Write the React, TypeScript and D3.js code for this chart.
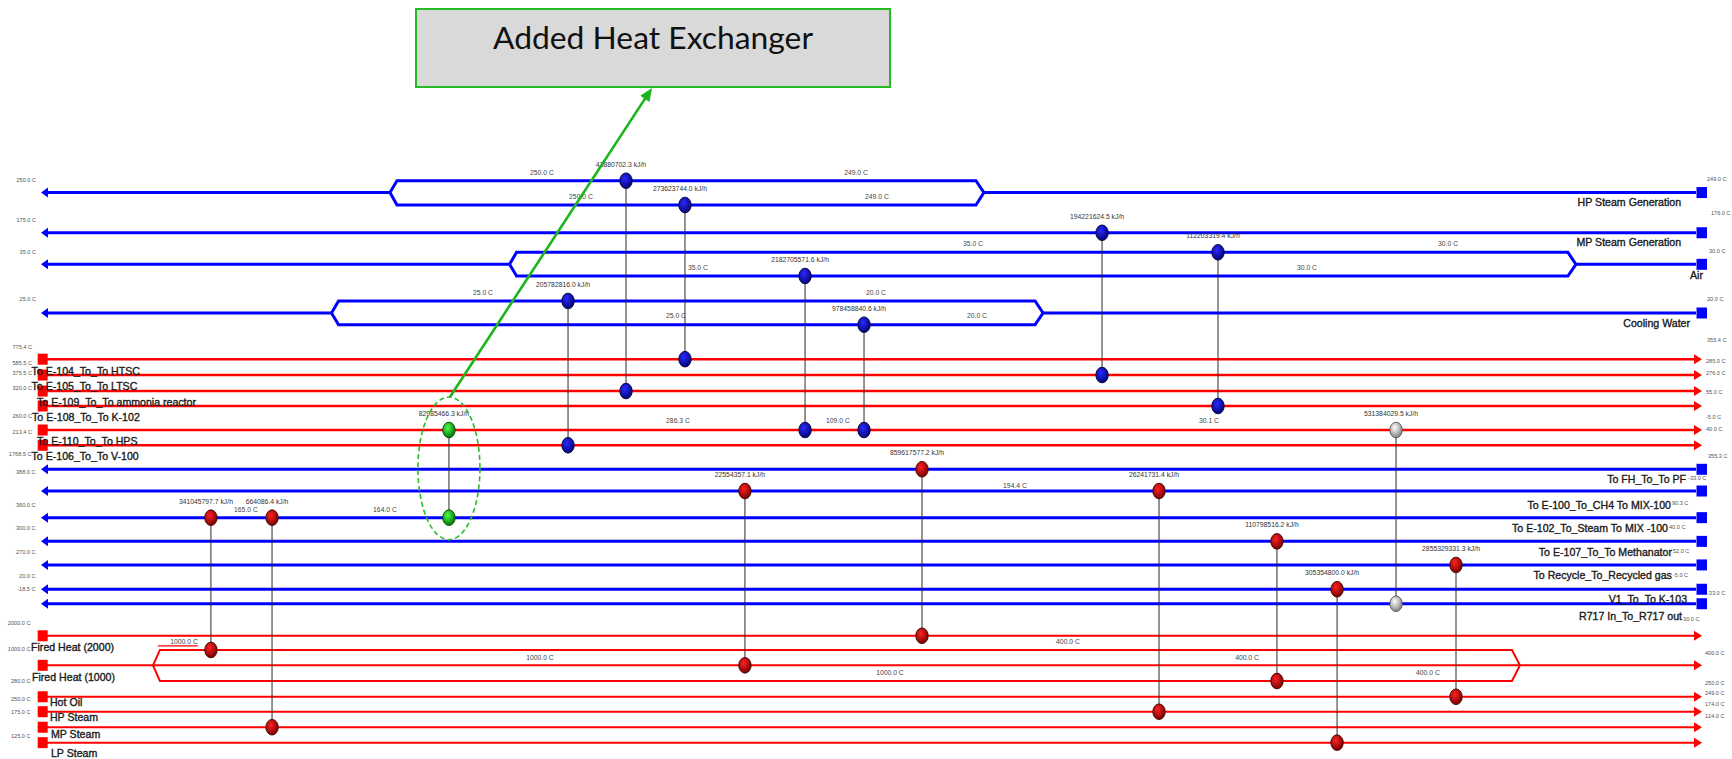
import React from "react";
import * as d3 from "d3";

// streams, top to bottom
const streamNames = [
  "HP Steam Generation", "MP Steam Generation", "Air", "Cooling Water",
  "To E-104_To_To HTSC", "To E-105_To_To LTSC", "To E-109_To_To ammonia reactor",
  "To E-108_To_To K-102", "To E-110_To_To HPS", "To E-106_To_To V-100",
  "To FH_To_To PF", "To E-100_To_CH4 To MIX-100", "To E-102_To_Steam To MIX -100",
  "To E-107_To_To Methanator", "To Recycle_To_Recycled gas", "V1_To_To K-103", "R717 In_To_R717 out",
  "Fired Heat (2000)", "Fired Heat (1000)", "Hot Oil", "HP Steam", "MP Steam", "LP Steam",
];
const streamIsHot = [
  false, false, false, false,
  true, true, true, true, true, true,
  false, false, false, false, false, false, false,
  true, true, true, true, true, true,
];
const streamIsUtility = [
  true, true, true, true,
  false, false, false, false, false, false,
  false, false, false, false, false, false, false,
  true, true, true, true, true, true,
];
// grid row of each stream
const streamLane = [
  0.77, 3.38, 5.43, 8.59,
  11.59, 12.62, 13.66, 14.63, 16.19, 17.18,
  18.74, 20.15, 21.88, 23.42, 24.95, 26.53, 27.47,
  29.55, 31.47, 33.51, 34.48, 35.49, 36.49,
];
const leftTemps = [
  "250.0 C", "175.0 C", "35.0 C", "25.0 C",
  "775.4 C", "585.5 C", "375.5 C", "320.0 C", "260.0 C", "213.4 C",
  "1768.5 C", "388.0 C", "360.0 C", "300.0 C", "270.0 C", "20.0 C", "-18.5 C",
  "2000.0 C", "1000.0 C", "280.0 C", "250.0 C", "175.0 C", "125.0 C",
];
const rightTemps = [
  "249.0 C", "176.0 C", "30.0 C", "20.0 C",
  "355.4 C", "285.0 C", "276.0 C", "55.0 C", "-5.0 C", "40.0 C",
  "355.3 C", "-33.0 C", "90.3 C", "40.0 C", "52.0 C", "-5.0 C", "-33.0 C",
  "30.0 C", "400.0 C", "250.0 C", "249.0 C", "174.0 C", "124.0 C",
];

// stream splits
const splitStream = [0, 2, 3, 18];
const splitFromCol = [21.01, 28.21, 17.49, 6.74];
const splitToCol = [56.77, 92.41, 60.33, 89.04];
const splitBranchLanes = [[0, 1.58], [4.65, 6.19], [7.81, 9.35], [30.47, 31.47, 32.49]];

// heat exchangers
const hxDuty = [
  "43880702.3", "273623744.0", "194221624.5", "112203319.4", "2182705571.6", "205782816.0",
  "978458840.6", "82985466.3", "531384029.5", "341045797.7", "664086.4", "22554357.1",
  "859617577.2", "26241731.4", "110798516.2", "2855329331.3", "305354800.0",
];
const hxHot = [6, 4, 5, 7, 8, 9, 8, 8, 8, 18, 21, 18, 17, 20, 18, 19, 22];
const hxHotBranch = [-1, -1, -1, -1, -1, -1, -1, -1, -1, 0, -1, 1, -1, -1, 2, -1, -1];
const hxCold = [0, 0, 1, 2, 2, 3, 3, 12, 16, 12, 12, 11, 10, 11, 13, 14, 15];
const hxColdBranch = [0, 1, -1, 0, 1, 0, 1, -1, -1, -1, -1, -1, -1, -1, -1, -1, -1];
const hxCol = [35.22, 38.77, 63.88, 70.86, 46.0, 31.73, 49.55, 24.56, 81.58, 10.23, 13.91, 42.38, 53.04, 67.31, 74.41, 85.19, 78.03];
const hxKind = [
  "cooler", "cooler", "cooler", "cooler", "cooler", "cooler", "cooler",
  "added", "process",
  "heater", "heater", "heater", "heater", "heater", "heater", "heater", "heater",
];

// temperatures along the branches
const branchTempText = [
  "250.0 C", "250.0 C", "249.0 C", "249.0 C", "35.0 C", "35.0 C", "30.0 C", "30.0 C",
  "25.0 C", "25.0 C", "20.0 C", "20.0 C", "286.3 C", "109.0 C", "30.1 C", "165.0 C",
  "164.0 C", "194.4 C", "1000.0 C", "1000.0 C", "1000.0 C", "400.0 C", "400.0 C", "400.0 C",
];

// label placement (layout only)
const branchTempCol = [30.16, 32.51, 49.07, 50.33, 56.11, 39.55, 84.71, 76.22, 26.61, 38.23, 50.27, 56.35, 38.35, 47.98, 70.32, 12.34, 20.71, 58.64, 8.61, 30.04, 51.11, 61.83, 72.61, 83.5];
const branchTempLane = [-0.56, 1.04, -0.56, 1.04, 4.09, 5.65, 4.09, 5.65, 7.23, 8.77, 7.23, 8.77, 15.6, 15.6, 15.6, 21.32, 21.32, 19.76, 29.95, 30.97, 31.95, 29.94, 30.97, 31.95];
const leftTempCol = [-0.3, -0.3, -0.3, -0.3, -0.54, -0.54, -0.54, -0.54, -0.54, -0.54, -0.57, -0.33, -0.33, -0.33, -0.33, -0.33, -0.33, -0.63, -0.63, -0.63, -0.63, -0.63, -0.63];
const leftTempLane = [-0.05, 2.55, 4.61, 7.68, 10.78, 11.82, 12.49, 13.46, 15.28, 16.32, 17.75, 18.9, 21.04, 22.53, 24.09, 25.65, 26.49, 28.7, 30.41, 32.47, 33.66, 34.5, 36.06];
const rightTempCol = [100.3, 100.54, 100.42, 100.3, 100.3, 100.24, 100.24, 100.24, 100.24, 100.24, 100.36, 99.16, 98.19, 98.01, 98.25, 98.25, 100.3, 98.86, 100.18, 100.18, 100.18, 100.18, 100.18];
const rightTempLane = [-0.11, 2.1, 4.57, 7.68, 10.34, 11.69, 12.49, 13.7, 15.32, 16.12, 17.88, 19.31, 20.96, 22.49, 24.05, 25.6, 26.77, 28.45, 30.67, 32.6, 33.25, 33.97, 34.75];
const nameCol = [98.74, 98.74, 100.06, 99.28, -0.57, -0.57, -0.24, -0.54, -0.24, -0.57, 99.04, 98.13, 97.95, 98.19, 98.19, 99.1, 98.8, -0.6, -0.54, 0.54, 0.54, 0.6, 0.6];
const nameDy = [0.87, 0.86, 0.95, 0.91, 1.0, 0.94, 0.97, 0.97, 0.94, 0.97, 0.92, 1.14, 0.93, 0.95, 0.94, 0.92, 1.06, 0.97, 1.02, 0.57, 0.6, 0.69, 0.93];

const nodeFill: Record<string, string> = { cooler: "url(#gBlue)", heater: "url(#gRed)", process: "url(#gGrey)", added: "url(#gGreen)" };
const nodeEdge: Record<string, string> = { cooler: "#000033", heater: "#3a0000", process: "#555", added: "#004400" };

const App = () => {
  const xs = d3.scaleLinear().domain([0, 100]).range([41, 1702]);
  const ys = d3.scaleLinear().domain([0, 1]).range([180.7, 196.1]);
  const line = d3.line();
  const laneOf = (s: number, b: number) =>
    b < 0 ? streamLane[s] : splitBranchLanes[splitStream.indexOf(s)][b];

  const font = "'Liberation Sans', Arial, sans-serif";
  const green = "#1cb41c";

  // added exchanger highlight
  const gx = xs(hxCol[7]);
  const gTop = ys(laneOf(hxHot[7], hxHotBranch[7])) - 33;
  const gBot = ys(laneOf(hxCold[7], hxColdBranch[7])) + 22;
  const box = { x: 416, y: 9, w: 474, h: 78 };
  const aEnd: [number, number] = [box.x + box.w / 2 - 1, box.y + box.h + 1];
  const aStart: [number, number] = [gx + 1, gTop];
  const dx = aEnd[0] - aStart[0], dy = aEnd[1] - aStart[1];
  const len = Math.hypot(dx, dy);
  const ux = dx / len, uy = dy / len;
  const head = [
    aEnd,
    [aEnd[0] - ux * 13 - uy * 5.5, aEnd[1] - uy * 13 + ux * 5.5],
    [aEnd[0] - ux * 13 + uy * 5.5, aEnd[1] - uy * 13 - ux * 5.5],
  ] as [number, number][];

  return (
    <svg width={1732} height={759} style={{ position: "absolute", left: 0, top: 0, background: "#fff" }} fontFamily={font}>
      <defs>
        <radialGradient id="gBlue" cx="40%" cy="35%" r="70%">
          <stop offset="0%" stopColor="#2a2aff" />
          <stop offset="100%" stopColor="#000070" />
        </radialGradient>
        <radialGradient id="gRed" cx="40%" cy="35%" r="70%">
          <stop offset="0%" stopColor="#ff2020" />
          <stop offset="100%" stopColor="#700000" />
        </radialGradient>
        <radialGradient id="gGreen" cx="40%" cy="35%" r="70%">
          <stop offset="0%" stopColor="#4cff4c" />
          <stop offset="100%" stopColor="#006a00" />
        </radialGradient>
        <radialGradient id="gGrey" cx="40%" cy="35%" r="70%">
          <stop offset="0%" stopColor="#ffffff" />
          <stop offset="100%" stopColor="#7a7a7a" />
        </radialGradient>
      </defs>

      {/* stream lines */}
      {streamNames.map((name, s) => {
        const y = ys(streamLane[s]);
        const hot = streamIsHot[s];
        const color = hot ? "#ff0000" : "#0000ff";
        const sw = hot ? (streamIsUtility[s] ? 2 : 2.6) : 3;
        const x0 = xs(0) + 6, x1 = xs(100) - 6;
        const k = splitStream.indexOf(s);
        const paths: string[] = [];
        if (k < 0) {
          paths.push(line([[x0, y], [x1, y]]) as string);
        } else {
          const vl = xs(splitFromCol[k]), vr = xs(splitToCol[k]);
          paths.push(line([[x0, y], [vl, y]]) as string, line([[vr, y], [x1, y]]) as string);
          splitBranchLanes[k].forEach((l) => {
            const yb = ys(l);
            paths.push(line([[vl, y], [vl + 7, yb], [vr - 8, yb], [vr, y]]) as string);
          });
        }
        const arrow = hot
          ? line([[xs(100), y], [xs(100) - 8, y - 5], [xs(100) - 8, y + 5]]) + "Z"
          : line([[xs(0), y], [xs(0) + 7, y - 5], [xs(0) + 7, y + 5]]) + "Z";
        return (
          <g key={name}>
            {paths.map((p, i) => (
              <path key={i} d={p} fill="none" stroke={color} strokeWidth={sw} />
            ))}
            <path d={arrow} fill={color} />
            {hot ? (
              <rect x={xs(0) - 3.3} y={y - 5.5} width={10} height={11} fill={color} />
            ) : (
              <rect x={xs(100) - 5.5} y={y - 5.5} width={10.5} height={11} fill={color} />
            )}
          </g>
        );
      })}

      {/* short marker under first fired heat label */}
      <path d={line([[xs(7.04), ys(30.2)], [xs(9.44), ys(30.2)]]) as string} stroke="#ff0000" strokeWidth={1.2} />

      {/* exchanger links */}
      {hxDuty.map((d, i) => {
        const x = xs(hxCol[i]);
        const yh = ys(laneOf(hxHot[i], hxHotBranch[i]));
        const yc = ys(laneOf(hxCold[i], hxColdBranch[i]));
        return <line key={"l" + i} x1={x} x2={x} y1={yh} y2={yc} stroke="#2a2a2a" strokeWidth={1} />;
      })}

      {/* exchanger nodes and duties */}
      {hxDuty.map((d, i) => {
        const x = xs(hxCol[i]);
        const yh = ys(laneOf(hxHot[i], hxHotBranch[i]));
        const yc = ys(laneOf(hxCold[i], hxColdBranch[i]));
        const top = Math.min(yh, yc);
        return (
          <g key={"n" + i}>
            {[yh, yc].map((y, j) => (
              <ellipse key={j} cx={x} cy={y} rx={6.2} ry={7.8} fill={nodeFill[hxKind[i]]} stroke={nodeEdge[hxKind[i]]} strokeWidth={0.9} />
            ))}
            <text x={x - 5} y={top - 16.5} textAnchor="middle" dominantBaseline="central" fontSize={6.8} fill="#333">
              {d} kJ/h
            </text>
          </g>
        );
      })}

      {/* temperatures on branches */}
      {branchTempText.map((t, i) => (
        <text key={"b" + i} x={xs(branchTempCol[i])} y={ys(branchTempLane[i])} textAnchor="middle" dominantBaseline="central" fontSize={6.8} fill="#444">
          {t}
        </text>
      ))}

      {/* end temperatures */}
      {leftTemps.map((t, i) => (
        <text key={"lt" + i} x={xs(leftTempCol[i])} y={ys(leftTempLane[i])} textAnchor="end" dominantBaseline="central" fontSize={5.6} fill="#555">
          {t}
        </text>
      ))}
      {rightTemps.map((t, i) => (
        <text key={"rt" + i} x={xs(rightTempCol[i])} y={ys(rightTempLane[i])} textAnchor="start" dominantBaseline="central" fontSize={5.6} fill="#555">
          {t}
        </text>
      ))}

      {/* stream names */}
      {streamNames.map((name, s) => (
        <text
          key={"nm" + s}
          x={xs(nameCol[s])}
          y={ys(streamLane[s] + nameDy[s])}
          textAnchor={streamIsHot[s] ? "start" : "end"}
          fontSize={10.6}
          fill="#1a1a1a"
          stroke="#1a1a1a"
          strokeWidth={0.35}
        >
          {name}
        </text>
      ))}

      {/* added heat exchanger callout */}
      <ellipse cx={gx} cy={(gTop + gBot) / 2} rx={31} ry={(gBot - gTop) / 2} fill="none" stroke="#2cbb2c" strokeWidth={1.6} strokeDasharray="5 3" />
      <line x1={aStart[0]} y1={aStart[1]} x2={aEnd[0] - ux * 10} y2={aEnd[1] - uy * 10} stroke={green} strokeWidth={2.6} />
      <path d={line(head) + "Z"} fill={green} />
      <rect x={box.x} y={box.y} width={box.w} height={box.h} fill="#d9d9d9" stroke="#22bb22" strokeWidth={2} />
      <text x={box.x + box.w / 2} y={49} textAnchor="middle" fontFamily="Lato, 'Open Sans', sans-serif" fontSize={31.5} fill="#111" textLength={320} lengthAdjust="spacingAndGlyphs">
        Added Heat Exchanger
      </text>
    </svg>
  );
};

export default App;
